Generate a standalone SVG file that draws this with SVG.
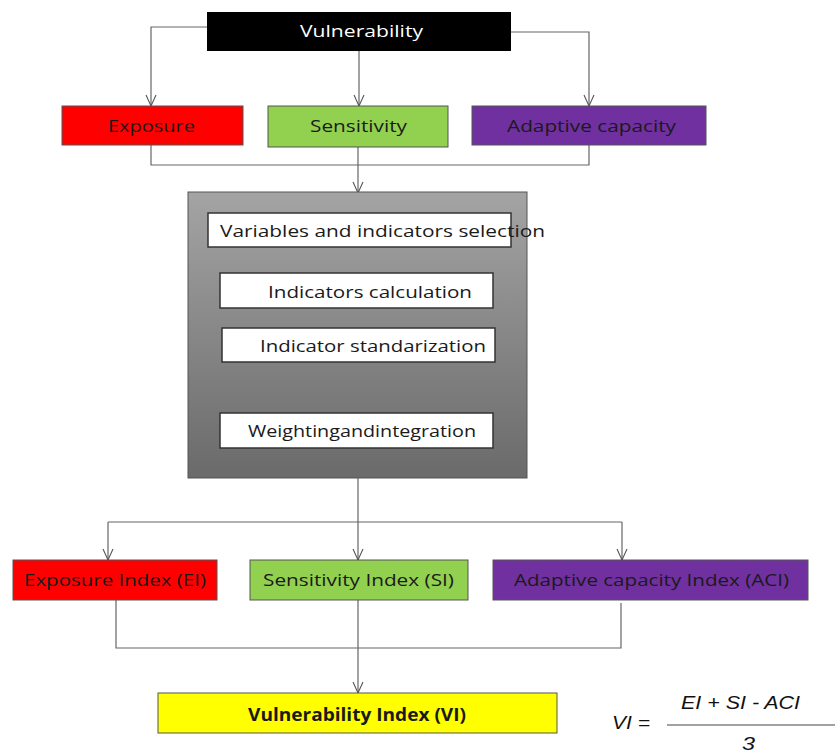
<svg xmlns="http://www.w3.org/2000/svg" width="835" height="753" viewBox="0 0 835 753">
<defs>
<linearGradient id="gbox" x1="0" y1="0" x2="0" y2="1">
<stop offset="0" stop-color="#a4a4a4"/>
<stop offset="1" stop-color="#6a6a6a"/>
</linearGradient>
<marker id="arr" markerWidth="14" markerHeight="14" refX="12" refY="7" orient="auto" markerUnits="userSpaceOnUse" viewBox="0 0 14 14">
<path d="M1,2 L12,7 L1,12" fill="none" stroke="#555" stroke-width="1.1"/>
</marker>
</defs>
<style>
.t{font-family:"Open Sans","Liberation Sans",sans-serif;font-size:17px;fill:#1a1a1a}
.w{fill:#fff}
.box{stroke:#555;stroke-width:1}
.inner{fill:#fff;stroke:#333;stroke-width:1.5}
.c{fill:none;stroke:#666;stroke-width:1.2}
.f{font-family:"Liberation Sans",sans-serif;font-style:italic;font-size:19px;fill:#111}
</style>
<rect width="835" height="753" fill="#fff"/>
<g id="connectors">
<path class="c" d="M207,27 H151 V106" marker-end="url(#arr)"/>
<path class="c" d="M359,51 V106" marker-end="url(#arr)"/>
<path class="c" d="M511,32 H589 V106" marker-end="url(#arr)"/>
<path class="c" d="M151,145 V165 H589 V145"/>
<path class="c" d="M358,147 V193" marker-end="url(#arr)"/>
<path class="c" d="M358,247 V273 M358,308 V328 M358,362 V413 M358,448 V478" style="stroke:#333"/>
<path class="c" d="M358,478 V560" marker-end="url(#arr)"/>
<path class="c" d="M108,522 H622"/>
<path class="c" d="M108,522 V560" marker-end="url(#arr)"/>
<path class="c" d="M622,522 V560" marker-end="url(#arr)"/>
<path class="c" d="M116,600 V648 H621 V603"/>
<path class="c" d="M358,600 V693" marker-end="url(#arr)"/>
</g>
<g id="vulnerability">
<rect x="207" y="12" width="304" height="39" fill="#000"/>
<text class="t w" x="300" y="37" font-size="18" textLength="123" lengthAdjust="spacingAndGlyphs">Vulnerability</text>
</g>
<g id="exposure">
<rect class="box" x="62" y="106" width="181" height="39" fill="#ff0000"/>
<text class="t" x="108" y="132" textLength="87" lengthAdjust="spacingAndGlyphs">Exposure</text>
</g>
<g id="sensitivity">
<rect class="box" x="268" y="106" width="180" height="41" fill="#92d050"/>
<text class="t" x="310" y="132" textLength="97" lengthAdjust="spacingAndGlyphs">Sensitivity</text>
</g>
<g id="adaptive">
<rect class="box" x="472" y="106" width="234" height="39" fill="#7030a0"/>
<text class="t" x="507" y="132" textLength="169" lengthAdjust="spacingAndGlyphs">Adaptive capacity</text>
</g>
<g id="process">
<rect x="188" y="192" width="339" height="286" fill="url(#gbox)" stroke="#555" stroke-width="1"/>
</g>
<g id="step1">
<rect class="inner" x="208" y="213" width="303" height="34"/>
<text class="t" x="220" y="237" textLength="325" lengthAdjust="spacingAndGlyphs">Variables and indicators selection</text>
</g>
<g id="step2">
<rect class="inner" x="220" y="273" width="273" height="35"/>
<text class="t" x="268" y="298" textLength="204" lengthAdjust="spacingAndGlyphs">Indicators calculation</text>
</g>
<g id="step3">
<rect class="inner" x="222" y="328" width="273" height="34"/>
<text class="t" x="260" y="352" textLength="226" lengthAdjust="spacingAndGlyphs">Indicator standarization</text>
</g>
<g id="step4">
<rect class="inner" x="220" y="413" width="273" height="35"/>
<text class="t" x="248" y="437" textLength="228" lengthAdjust="spacingAndGlyphs">Weightingandintegration</text>
</g>
<g id="ei">
<rect class="box" x="13" y="560" width="204" height="40" fill="#ff0000"/>
<text class="t" x="24" y="586" textLength="182" lengthAdjust="spacingAndGlyphs">Exposure Index (EI)</text>
</g>
<g id="si">
<rect class="box" x="250" y="560" width="218" height="40" fill="#92d050"/>
<text class="t" x="263" y="586" textLength="191" lengthAdjust="spacingAndGlyphs">Sensitivity Index (SI)</text>
</g>
<g id="aci">
<rect class="box" x="493" y="560" width="315" height="40" fill="#7030a0"/>
<text class="t" x="514" y="586" textLength="275" lengthAdjust="spacingAndGlyphs">Adaptive capacity Index (ACI)</text>
</g>
<g id="vi">
<rect class="box" x="158" y="693" width="399" height="40" fill="#ffff00"/>
<text class="t" x="248" y="721" font-weight="bold" textLength="218" lengthAdjust="spacingAndGlyphs">Vulnerability Index (VI)</text>
</g>
<g id="formula">
<text class="f" x="612" y="729" textLength="38" lengthAdjust="spacingAndGlyphs">VI =</text>
<text class="f" x="681" y="709" textLength="119" lengthAdjust="spacingAndGlyphs">EI + SI - ACI</text>
<line x1="667" y1="725" x2="835" y2="725" stroke="#444" stroke-width="1"/>
<text class="f" x="742" y="750" textLength="13" lengthAdjust="spacingAndGlyphs">3</text>
</g>
</svg>
